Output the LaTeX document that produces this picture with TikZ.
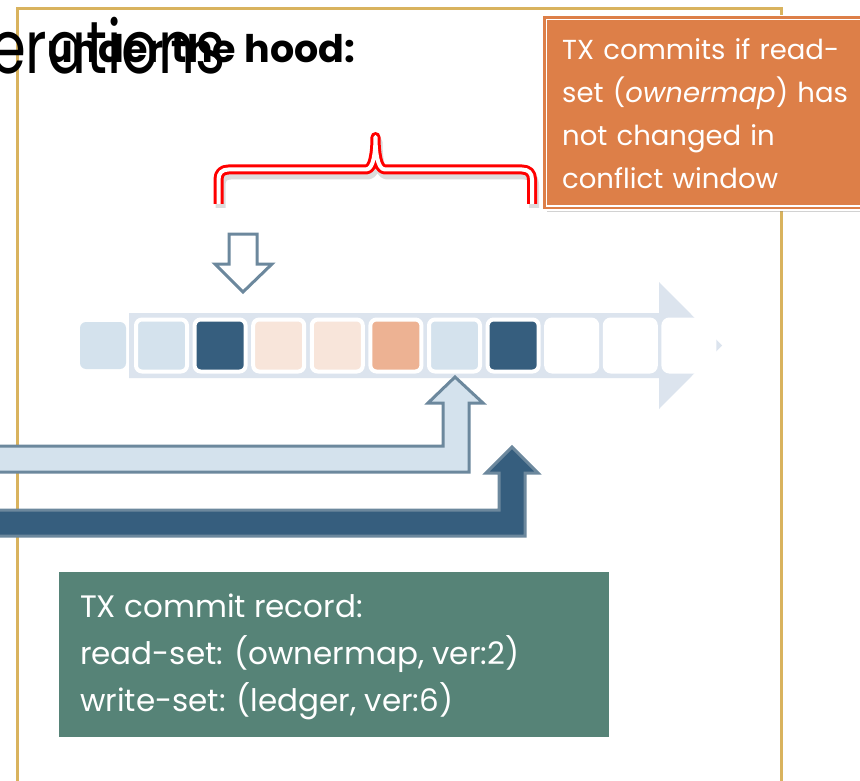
\documentclass[tikz,border=0pt]{standalone}
\usepackage{fontspec}
\setmainfont{Poppins}
\usepackage{tikz}
\usetikzlibrary{positioning,shadows}

\definecolor{frameGold}{HTML}{D9B35E}
\definecolor{boxOrange}{HTML}{DD7F48}
\definecolor{boxGreen}{HTML}{568377}
\definecolor{cellBlue}{HTML}{D4E2ED}
\definecolor{lineBlue}{HTML}{DCE4EE}
\definecolor{cellNavy}{HTML}{365E7E}
\definecolor{cellPeach}{HTML}{F8E5DA}
\definecolor{cellSalmon}{HTML}{EDB293}
\definecolor{slate}{HTML}{6C889D}

\tikzset{
  cell/.style={rectangle, rounded corners=6pt, draw=white, line width=4pt,
    minimum width=51pt, minimum height=52pt, inner sep=0pt},
  blockarrow/.style={draw=slate, line width=3pt, line join=miter},
  brace/.style={draw=red, line width=3pt, double=white, double distance=4pt,
    line join=round},
  boxtext/.style={anchor=north west, inner sep=0pt, text=white, align=left},
}

\begin{document}
\begin{tikzpicture}[x=1pt,y=-1pt]
\clip (0,0) rectangle (860,781);
\fill[white] (0,0) rectangle (860,781);

\draw[frameGold, line width=3.5pt] (17.5,800) -- (17.5,8.5) -- (781.5,8.5) -- (781.5,800);

\node[anchor=base west, inner sep=0pt, font=\fontsize{74}{74}\selectfont] (ttla) at (-10,74) {\scalebox{0.78}[1]{erations}};
\node[anchor=base west, inner sep=0pt, font=\fontsize{38}{38}\selectfont\bfseries] (ttlb) at (47,63) {under the hood:};

\draw[gray!45, line width=10pt, line join=round, opacity=0.6] (220.5,208) -- (220.5,184.5) .. controls (220.5,178) and (224,174.5) .. (230.5,174.5) -- (368,174.5) .. controls (376,174.5) and (377.5,155) .. (377.5,142) .. controls (377.5,155) and (379,174.5) .. (387,174.5) -- (524,174.5) .. controls (530.5,174.5) and (534,178) .. (534,184.5) -- (534,208);
\draw[brace] (218.5,204) -- (218.5,179.5) .. controls (218.5,173) and (222,169.5) .. (228.5,169.5) -- (366,169.5) .. controls (374,169.5) and (375.5,150) .. (375.5,137) .. controls (375.5,150) and (377,169.5) .. (385,169.5) -- (522,169.5) .. controls (528.5,169.5) and (532,173) .. (532,179.5) -- (532,204);

\node[anchor=north west, minimum width=340pt, minimum height=190.5pt, fill=boxOrange,
  draw=white, line width=1.5pt, double=boxOrange, double distance=2.5pt,
  drop shadow={shadow xshift=2pt, shadow yshift=-4pt, opacity=0.35}] (condbox) at (543.75,16.75) {};
\node[boxtext, text width=295pt, font=\fontsize{27.5}{43}\selectfont] (cond) at (562,38)
  {TX commits if read-\\set (\textit{ownermap}) has\\not changed in\\conflict window};

\draw[blockarrow, fill=white] (229,234) -- (257,234) -- (257,264) -- (272,264) -- (243,292) -- (215,264) -- (229,264) -- cycle;

\fill[lineBlue] (129,313) -- (659,313) -- (659,282) -- (722,345.5) -- (659,409) -- (659,378) -- (129,378) -- cycle;
\node[cell, draw=none, fill=cellBlue, minimum width=46pt, minimum height=47pt] (c0) at (103,345.5) {};
\foreach \col [count=\i] in {cellBlue,cellNavy,cellPeach,cellPeach,cellSalmon,cellBlue,cellNavy,white,white,white}
  \node[cell, fill=\col] (c\i) at ({102.9+58.6*\i},345.5) {};

\draw[blockarrow, fill=cellBlue] (-10,446) -- (443,446) -- (443,403) -- (428,403) -- (455,377) -- (483,403) -- (469,403) -- (469,472) -- (-10,472) -- cycle;
\draw[blockarrow, fill=cellNavy] (-10,510) -- (499,510) -- (499,473) -- (486,473) -- (512,447) -- (538,473) -- (525,473) -- (525,536) -- (-10,536) -- cycle;

\node[anchor=north west, minimum width=550pt, minimum height=165pt, fill=boxGreen, inner sep=0pt] (recbox) at (59,572) {};
\node[boxtext, font=\fontsize{31}{47}\selectfont] (rec) at (80,594)
  {TX commit record:\\read-set: (ownermap, ver:2)\\write-set: (ledger, ver:6)};

\end{tikzpicture}
\end{document}
